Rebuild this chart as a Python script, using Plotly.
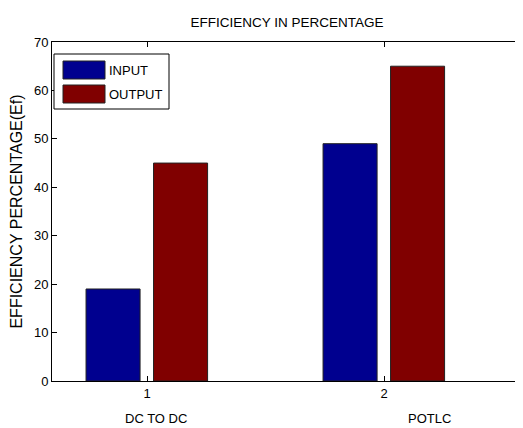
import plotly.graph_objects as go

# ---- data ----
categories = [1, 2]
category_names = ["DC TO DC", "POTLC"]
input_vals = [19, 49]
output_vals = [45, 65]
series_names = ["INPUT", "OUTPUT"]
y_ticks = [0, 10, 20, 30, 40, 50, 60, 70]

# ---- layout constants (page pixels; page body has an 8px margin) ----
OFF = 8
W, H = 523 - OFF, 428 - OFF
L, R, T, B = 52 - OFF, 522 - OFF, 42 - OFF, 381 - OFF
FONT = "Liberation Sans, Arial, sans-serif"
C_IN = "#00008F"
C_OUT = "#800000"


def px_x(p):
    return (p - OFF - L) / (R - L)


def px_y(p):
    return (B - (p - OFF)) / (B - T)


fig = go.Figure()
fig.add_trace(go.Bar(x=categories, y=input_vals, name=series_names[0],
                     width=0.228, offset=-0.2574,
                     marker=dict(color=C_IN, line=dict(color="#222222", width=1))))
fig.add_trace(go.Bar(x=categories, y=output_vals, name=series_names[1],
                     width=0.228, offset=0.0274,
                     marker=dict(color=C_OUT, line=dict(color="#222222", width=1))))

shapes = [
    dict(type="rect", xref="paper", yref="paper",
         x0=px_x(54), x1=px_x(169), y0=px_y(109), y1=px_y(54),
         line=dict(color="#000000", width=1), fillcolor="white"),
    dict(type="rect", xref="paper", yref="paper",
         x0=px_x(63), x1=px_x(105), y0=px_y(79), y1=px_y(61),
         line=dict(color="#222222", width=1), fillcolor=C_IN),
    dict(type="rect", xref="paper", yref="paper",
         x0=px_x(63), x1=px_x(105), y0=px_y(103), y1=px_y(85),
         line=dict(color="#222222", width=1), fillcolor=C_OUT),
]

annotations = [
    dict(text=series_names[0], xref="paper", yref="paper", x=px_x(107), y=px_y(70),
         xanchor="left", yanchor="middle", showarrow=False,
         font=dict(family=FONT, size=13, color="black")),
    dict(text=series_names[1], xref="paper", yref="paper", x=px_x(107), y=px_y(94),
         xanchor="left", yanchor="middle", showarrow=False,
         font=dict(family=FONT, size=13, color="black")),
    dict(text=category_names[0], xref="x", yref="paper", x=categories[0], y=0,
         xshift=8.5, yshift=-37, xanchor="center", yanchor="middle", showarrow=False,
         font=dict(family=FONT, size=13, color="black")),
    dict(text=category_names[1], xref="x", yref="paper", x=categories[1], y=0,
         xshift=45, yshift=-37, xanchor="center", yanchor="middle", showarrow=False,
         font=dict(family=FONT, size=13, color="black")),
]

fig.update_layout(
    width=W, height=H,
    margin=dict(l=L, r=W - R, t=T, b=H - B, autoexpand=False),
    paper_bgcolor="white", plot_bgcolor="white",
    barmode="overlay",
    showlegend=False,
    font=dict(family=FONT, size=13, color="black"),
    title=dict(text="EFFICIENCY IN PERCENTAGE", x=(L + R) / 2 / W, xanchor="center",
               y=1 - (22 - OFF) / H, yanchor="middle", yref="container",
               font=dict(family=FONT, size=13.5, color="black")),
    xaxis=dict(range=[0.599, 2.582], tickvals=categories,
               ticktext=[str(c) for c in categories],
               showline=True, linecolor="black", linewidth=1, mirror="ticks",
               ticks="inside", ticklen=5, tickcolor="black",
               showgrid=False, zeroline=False, automargin=False,
               tickfont=dict(family=FONT, size=13, color="black")),
    yaxis=dict(range=[0, 70], tickvals=y_ticks,
               showline=True, linecolor="black", linewidth=1, mirror="ticks",
               ticks="inside", ticklen=5, tickcolor="black",
               showgrid=False, zeroline=False, automargin=False,
               tickfont=dict(family=FONT, size=13, color="black"),
               title=dict(text="EFFICIENCY PERCENTAGE(Ef)", standoff=13,
                          font=dict(family=FONT, size=16, color="black"))),
    shapes=shapes,
    annotations=annotations,
)

fig.write_html("out.html")
